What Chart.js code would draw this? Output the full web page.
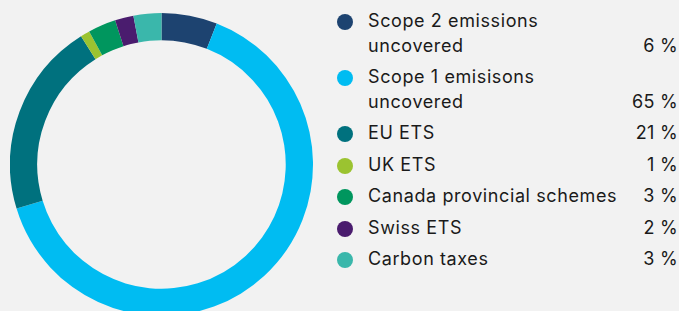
<!DOCTYPE html>
<html>
<head>
<meta charset="utf-8">
<script src="https://cdn.jsdelivr.net/npm/chart.js@4"></script>
<style>
    html, body { margin: 0; padding: 0; }
    body { width: 679px; height: 311px; background: #f2f2f2; overflow: hidden; position: relative; font-family: Inter, "Open Sans", sans-serif; color: #1a1a1a; }
    #chartBox { position: absolute; left: 10px; top: 13px; width: 303px; height: 303px; }
    #legend { position: absolute; left: 337px; top: 9px; width: 341px; font-size: 18px; letter-spacing: 0.6px; }
    .leg-row { display: flex; align-items: flex-start; margin-bottom: 7px; line-height: 24.5px; }
    .leg-dot { width: 16px; height: 16px; border-radius: 50%; flex: none; margin-top: 5px; margin-right: 15px; }
    .leg-label { flex: 1; }
    .leg-val { align-self: flex-end; white-space: nowrap; letter-spacing: 0.3px; }
</style>
</head>
<body>
<div id="chartBox"><canvas id="donut"></canvas></div>
<div id="legend"></div>
<script>
const labels = ['Scope 2 emissions uncovered', 'Scope 1 emisisons uncovered', 'EU ETS', 'UK ETS', 'Canada provincial schemes', 'Swiss ETS', 'Carbon taxes'];
const legendLines = [['Scope 2 emissions', 'uncovered'], ['Scope 1 emisisons', 'uncovered'], ['EU ETS'], ['UK ETS'], ['Canada provincial schemes'], ['Swiss ETS'], ['Carbon taxes']];
const shares = [6, 65, 21, 1, 3, 2, 3];
const colors = ['#1d4370', '#00bcf2', '#00717e', '#9bc330', '#00965e', '#4a1c6e', '#3ab7ab'];

// legend built as plain html next to the ring
document.getElementById('legend').innerHTML = legendLines.map((lines, i) => `
    <div class="leg-row">
        <div class="leg-dot" style="background:${colors[i]}"></div>
        <div class="leg-label">${lines.join('<br>')}</div>
        <div class="leg-val">${shares[i]} %</div>
    </div>
`).join('');

new Chart(document.getElementById('donut'), {
    type: 'doughnut',
    data: {
        labels: labels,
        datasets: [{
            data: shares,
            backgroundColor: colors,
            borderWidth: 0,
            hoverOffset: 0
        }]
    },
    options: {
        responsive: true,
        maintainAspectRatio: false,
        animation: false,
        cutout: '82%',
        layout: { padding: 0 },
        plugins: { legend: { display: false }, tooltip: { enabled: false } }
    }
});
</script>
</body>
</html>
